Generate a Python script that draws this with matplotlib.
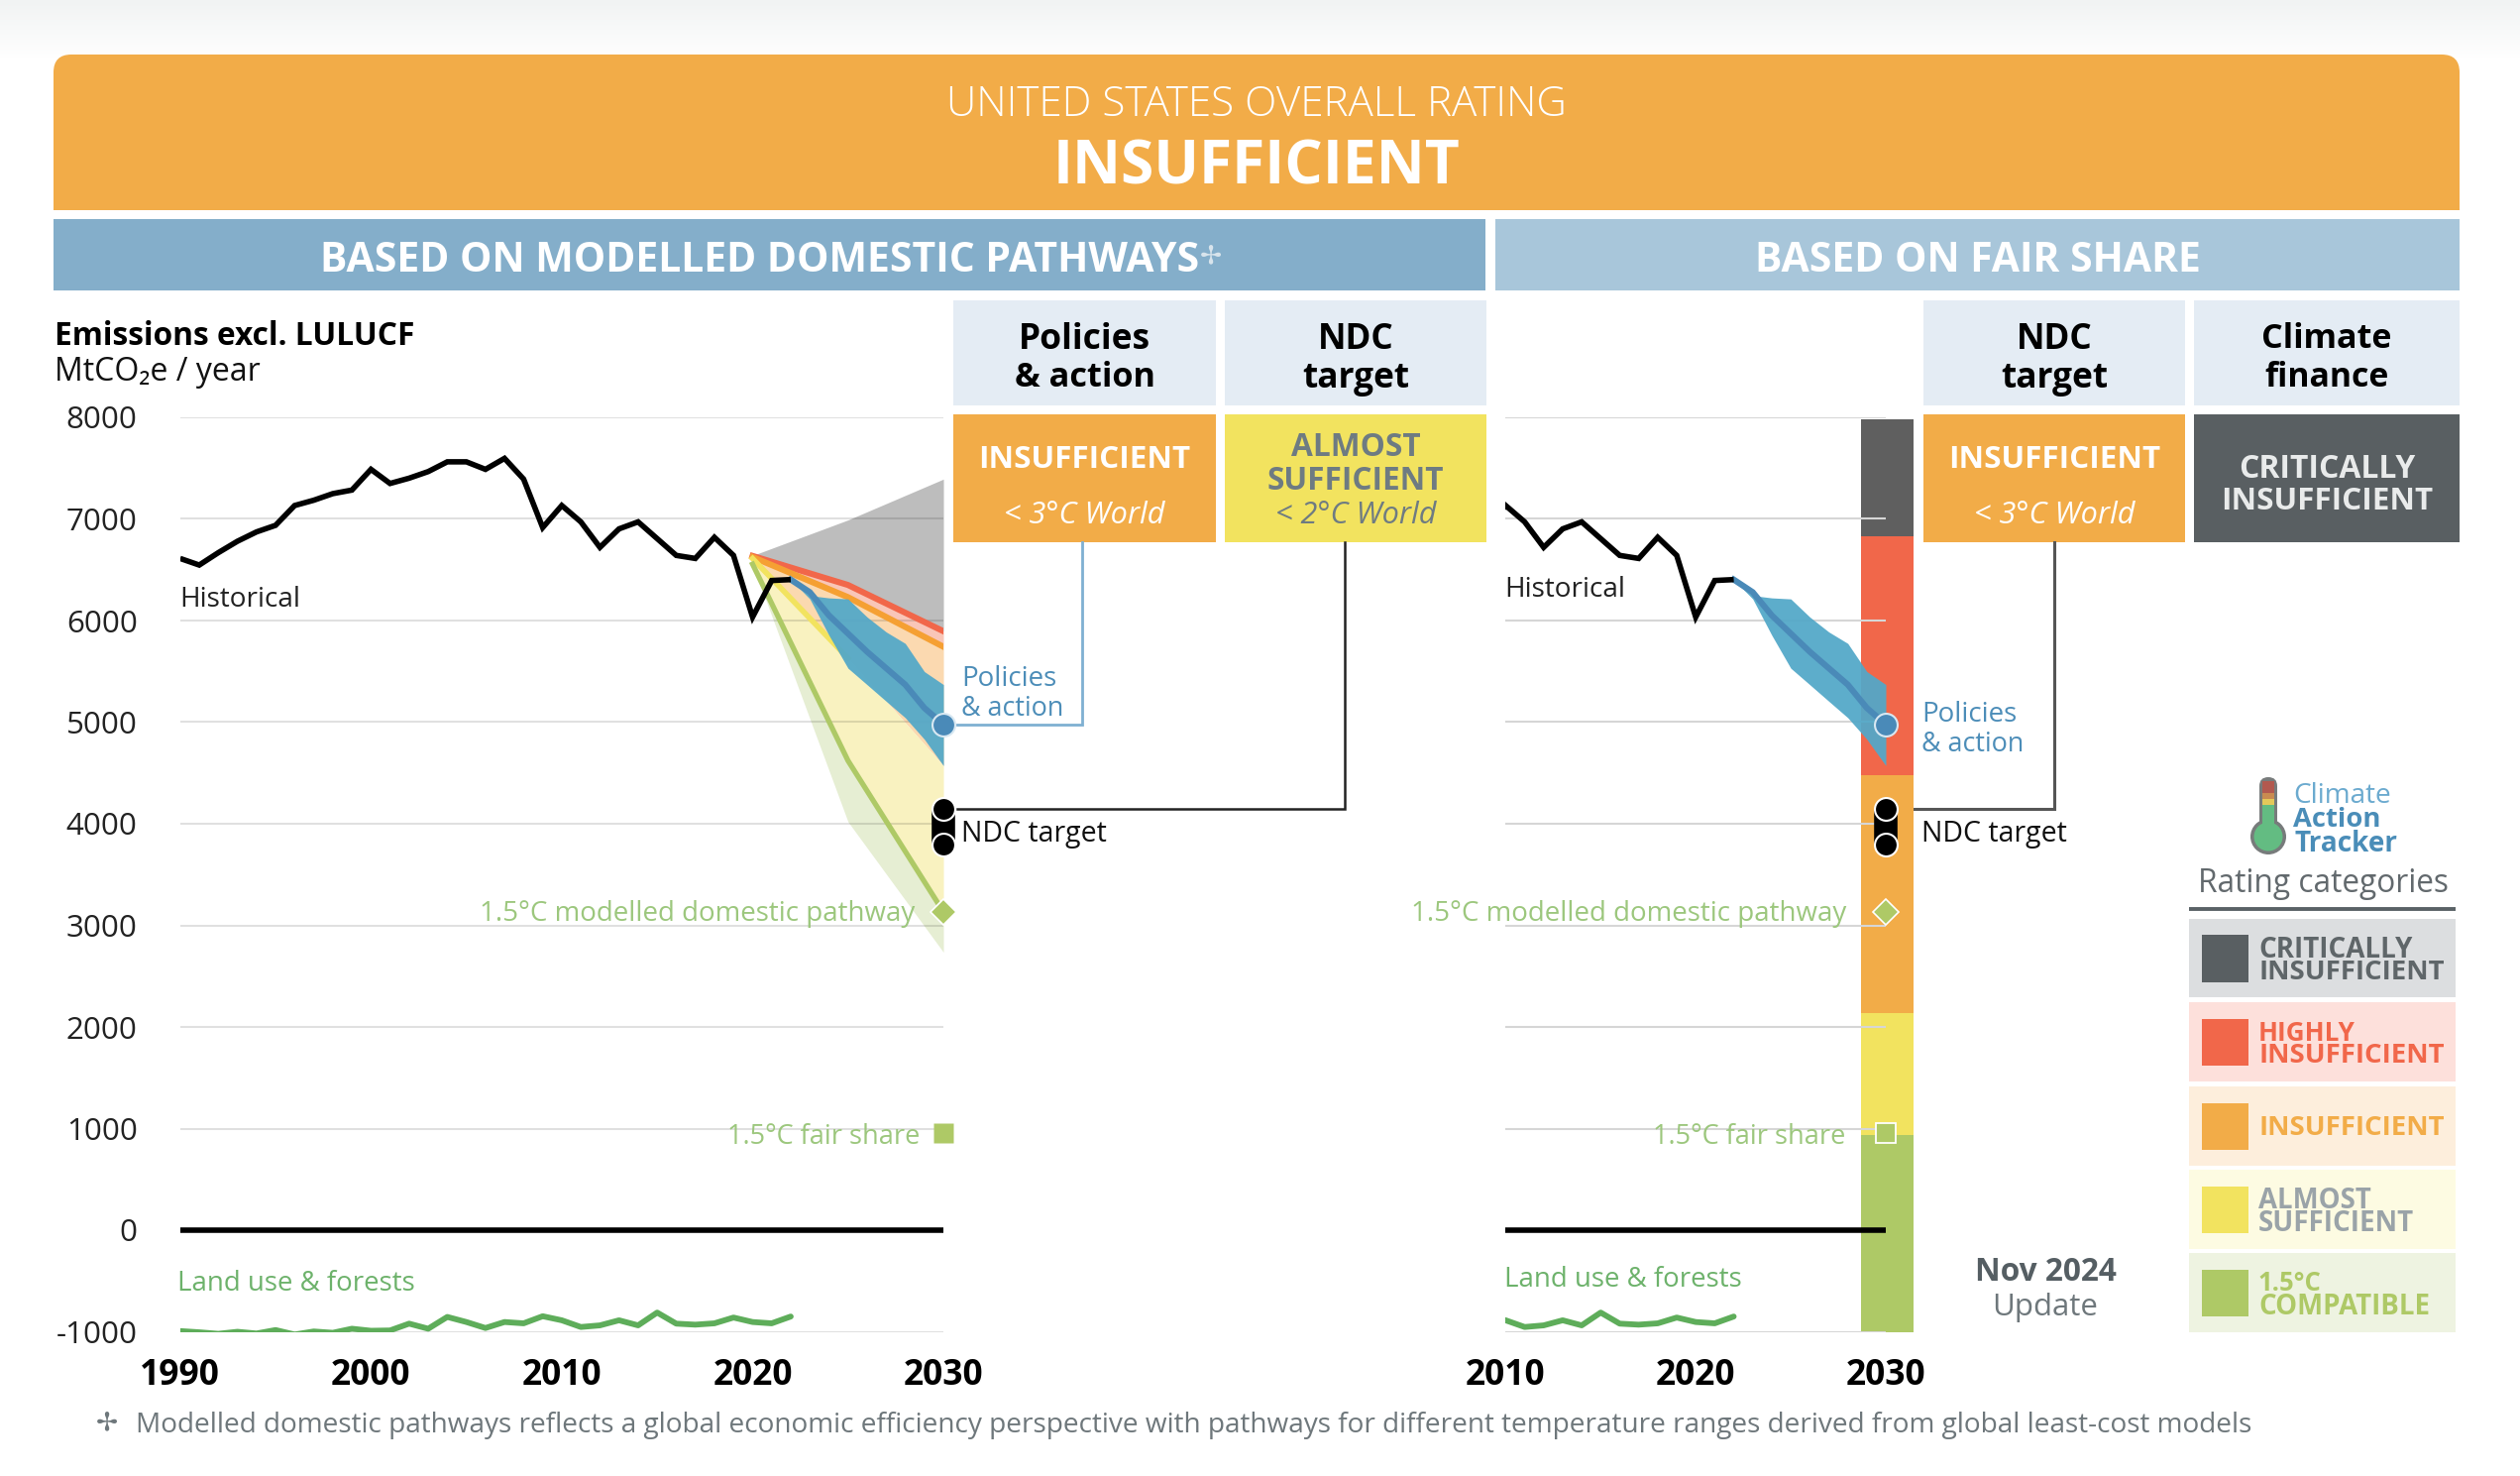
import numpy as np
import matplotlib
matplotlib.use("Agg")
import matplotlib.pyplot as plt
from matplotlib.patches import Rectangle, FancyBboxPatch, Circle

W, H = 2543, 1489
plt.rcParams['font.family'] = ['Open Sans', 'DejaVu Sans']
plt.rcParams['axes.unicode_minus'] = False

# ---------- data ----------
hist_years = list(range(1990, 2023))
hist_values = [6611, 6546, 6668, 6780, 6872, 6937, 7132, 7184, 7249, 7284, 7488, 7349, 7401,
               7466, 7562, 7562, 7488, 7596, 7392, 6915, 7132, 6971, 6720, 6902, 6971, 6806,
               6641, 6611, 6819, 6641, 6034, 6394, 6403]
lulucf_values = [-993, -1005, -1020, -1000, -1017, -983, -1027, -997, -1010, -970, -990, -987,
                 -920, -970, -854, -904, -963, -904, -917, -847, -887, -953, -937, -887, -937,
                 -811, -920, -930, -917, -860, -904, -917, -850]
band_years = [2020, 2025, 2030]
band_gray_top = [6640, 6990, 7392]
band_red = [6636, 6350, 5895]
band_orange = [6625, 6230, 5742]
band_yellow = [6610, 5630, 4572]
band_green = [6555, 4621, 3133]
band_green_low = [6555, 4020, 2736]
pa_years = [2022, 2023, 2024, 2025, 2026, 2027, 2028, 2029, 2030]
pa_top = [6403, 6246, 6223, 6213, 6035, 5888, 5775, 5498, 5370]
pa_bottom = [6403, 6213, 5856, 5531, 5369, 5206, 5044, 4832, 4572]
pa_mid = [6403, 6279, 6051, 5872, 5693, 5531, 5369, 5140, 4978]
policy_2030 = 4978
ndc_high, ndc_low = 4143, 3792
domestic_2030 = 3133
fair_share_2030 = 960
rating_edges = [-1000, 933, 2133, 4479, 6830, 7985]
C_DARK, C_RED, C_ORANGE, C_YELLOW, C_GREEN = '#595F62', '#F1674A', '#F2AC48', '#F2E35F', '#AEC966'
rating_colors = [C_GREEN, C_YELLOW, C_ORANGE, C_RED, '#5F5F5F']
y_ticks = [-1000, 0, 1000, 2000, 3000, 4000, 5000, 6000, 7000, 8000]
x_ticks_left = [1990, 2000, 2010, 2020, 2030]
x_ticks_right = [2010, 2020, 2030]
legend_names = [['CRITICALLY', 'INSUFFICIENT'], ['HIGHLY', 'INSUFFICIENT'], ['INSUFFICIENT'],
                ['ALMOST', 'SUFFICIENT'], ['1.5°C', 'COMPATIBLE']]

fig = plt.figure(figsize=(W / 100, H / 100), dpi=100, facecolor='white')
rend = fig.canvas.get_renderer()


def px_axes(z):
    a = fig.add_axes([0, 0, 1, 1], zorder=z)
    a.set_xlim(0, W)
    a.set_ylim(H, 0)
    a.axis('off')
    return a


bg = px_axes(0)
fg = px_axes(3)


def box(x0, y0, x1, y1, c):
    bg.add_patch(Rectangle((x0, y0), x1 - x0, y1 - y0, fc=c, ec='none'))


def T(x, y, s, width=None, size=20, color='black', ha='center', weight='normal', style='normal', fam=None):
    t = fg.text(x, y - 1, s, fontsize=size, color=color, ha=ha, va='center_baseline', fontweight=weight,
                fontstyle=style, family=fam if fam else ['Open Sans', 'DejaVu Sans'])
    if width:
        t.set_fontsize(size * width / t.get_window_extent(rend).width)
    return t


# top gradient
bg.imshow(np.linspace(0, 1, 60)[:, None], extent=(0, W, 60, 0), aspect='auto', zorder=0,
          cmap=matplotlib.colors.LinearSegmentedColormap.from_list('g', ['#F1F3F3', '#FFFFFF']))
bg.set_xlim(0, W)
bg.set_ylim(H, 0)

# banner
bg.add_patch(FancyBboxPatch((54, 55), 2428, 200, boxstyle='round,pad=0,rounding_size=18', fc=C_ORANGE, ec='none',
                            clip_path=None, zorder=1))
bg.add_patch(Rectangle((40, 212), 2460, 50, fc='white', ec='none', zorder=1.1))
box(54, 221, 1499, 293, '#84AECA')
box(1509, 221, 2482, 293, '#A8C6DA')
for a in bg.patches[-2:]:
    a.set_zorder(1.2)
T(1268, 102, 'UNITED STATES OVERALL RATING', 626, 28, 'white', weight='light')
T(1268, 164, 'INSUFFICIENT', 412, 44, 'white', weight='bold')
T(767, 259, 'BASED ON MODELLED DOMESTIC PATHWAYS', 888, 28, 'white', weight='bold')
T(1222, 257, '✢', size=19, color='#D8E4EC', fam=['DejaVu Sans'])
T(1995.5, 259, 'BASED ON FAIR SHARE', 451, 28, 'white', weight='bold')

# column boxes
HDR = '#E4ECF4'
for x0, x1 in [(962, 1227), (1236, 1500), (1941, 2205), (2214, 2482)]:
    box(x0, 303, x1, 409, HDR)
box(962, 418, 1227, 547, C_ORANGE)
box(1236, 418, 1500, 547, C_YELLOW)
box(1941, 418, 2205, 547, C_ORANGE)
box(2214, 418, 2482, 547, C_DARK)
for cx, a, b, wa, wb in [(1094.5, 'Policies', '& action', 133, 142), (1368, 'NDC', 'target', 77, 108),
                         (2073, 'NDC', 'target', 77, 108), (2348, 'Climate', 'finance', 132, 126)]:
    T(cx, 339, a, wa, 25, 'black', weight='bold')
    T(cx, 378, b, wb, 25, 'black', weight='bold')
T(1094.5, 461, 'INSUFFICIENT', 214, 23, 'white', weight='bold')
T(1094.5, 518, '< 3°C World', 162, 21, 'white', style='italic')
T(1368, 449, 'ALMOST', 131, 23, '#6E7B82', weight='bold')
T(1368, 482, 'SUFFICIENT', 179, 23, '#6E7B82', weight='bold')
T(1368, 518, '< 2°C World', 162, 21, '#6E7B82', style='italic')
T(2073, 461, 'INSUFFICIENT', 214, 23, 'white', weight='bold')
T(2073, 518, '< 3°C World', 162, 21, 'white', style='italic')
T(2348, 470, 'CRITICALLY', 179, 23, '#E9EBEB', weight='bold')
T(2348, 503, 'INSUFFICIENT', 214, 23, '#E9EBEB', weight='bold')

# connectors
BL = '#7FB0D2'
bg.plot([1092, 1092, 966], [547, 730.5, 730.5], color=BL, lw=2, solid_joinstyle='miter')
bg.plot([1356.6, 1356.6, 966], [547, 816, 816], color='#222222', lw=1.8, solid_joinstyle='miter')
bg.plot([2073, 2073, 1919], [547, 816, 816], color='#555555', lw=2.2, solid_joinstyle='miter')

# titles and labels
T(55, 336, 'Emissions excl. LULUCF', 362, 22, 'black', ha='left', weight='bold')
T(55, 373, 'MtCO₂e / year', 207, 22, '#111111', ha='left')
TXT_G = '#9CC77D'
TXT_B = '#4C8DB8'
T(181, 603, 'Historical', 122, 20, '#222222', ha='left')
T(1518, 593, 'Historical', 122, 20, '#222222', ha='left')
T(970, 682, 'Policies', 96, 20, TXT_B, ha='left')
T(970, 712, '& action', 103, 20, TXT_B, ha='left')
T(1939, 719, 'Policies', 96, 20, TXT_B, ha='left')
T(1939, 748, '& action', 103, 20, TXT_B, ha='left')
T(970, 839, 'NDC target', 147, 20, '#111111', ha='left')
T(1939, 839, 'NDC target', 147, 20, '#111111', ha='left')
T(923, 920, '1.5°C modelled domestic pathway', 438, 20, TXT_G, ha='right')
T(1863, 920, '1.5°C modelled domestic pathway', 438, 20, TXT_G, ha='right')
T(928, 1145, '1.5°C fair share', 194, 20, TXT_G, ha='right')
T(1862, 1145, '1.5°C fair share', 194, 20, TXT_G, ha='right')
T(179, 1293, 'Land use & forests', 239, 20, '#6DB26B', ha='left')
T(1518, 1288, 'Land use & forests', 239, 20, '#6DB26B', ha='left')
T(2064, 1280, 'Nov 2024', 143, 22, '#555E63', weight='bold')
T(2064, 1317, 'Update', 107, 22, '#6E777B')
T(108, 1434, '✢', size=19, color='#6E777B', fam=['DejaVu Sans'])
T(137, 1435, 'Modelled domestic pathways reflects a global economic efficiency perspective with pathways '
    'for different temperature ranges derived from global least-cost models', 2133, 20, '#6E777B', ha='left')

# legend
T(2344, 889, 'Rating categories', 253, 22, '#62696D')
bg.plot([2209, 2478], [916.5, 916.5], color='#5A6266', lw=2.8, solid_capstyle='butt')
row_y = [926.5, 1011, 1096, 1180, 1264]
row_bg = ['#DCDEE0', '#FDE0DB', '#FDEEDC', '#FDFBE2', '#EEF3E1']
row_sw = [C_DARK, C_RED, C_ORANGE, C_YELLOW, C_GREEN]
row_tx = ['#5F6669', C_RED, C_ORANGE, '#9AA3A8', C_GREEN]
row_w = [[155, 187], [98, 187], [187], [114, 157], [64, 173]]
for y, b, s, c, names, ws in zip(row_y, row_bg, row_sw, row_tx, legend_names, row_w):
    box(2209, y, 2478, y + 79.5, b)
    box(2222, y + 16.5, 2269, y + 64, s)
    if len(names) == 1:
        T(2279, y + 40, names[0], ws[0], 18, c, ha='left', weight='bold')
    else:
        T(2279, y + 29, names[0], ws[0], 18, c, ha='left', weight='bold')
        T(2279, y + 52, names[1], ws[1], 18, c, ha='left', weight='bold')

# logo
bg.add_patch(FancyBboxPatch((2280, 784), 18, 55, boxstyle='round,pad=0,rounding_size=9', fc='#777B7B', ec='none'))
bg.add_patch(Circle((2289, 844), 18, fc='#777B7B', ec='none'))
bg.add_patch(Circle((2289, 844), 14.5, fc='#63BC82', ec='none'))
for y0, y1, c in [(788, 800, '#B2594F'), (800, 806, '#C98B50'), (806, 812, '#E4C95A'), (812, 836, '#63BC82')]:
    box(2283, y0, 2295, y1, c)
T(2314, 801, 'Climate', 99, 18, '#6BAACF', ha='left')
T(2314, 825, 'Action', 88, 18, '#4A8DB8', ha='left', weight='bold')
T(2315, 849, 'Tracker', 105, 18, '#4A8DB8', ha='left', weight='bold')


# chart axes
def chart(x0, x1, xl, xticks):
    y0, y1 = 421, 1343.5
    a = fig.add_axes([x0 / W, 1 - y1 / H, (x1 - x0) / W, (y1 - y0) / H], zorder=1)
    a.patch.set_alpha(0)
    a.set_xlim(*xl)
    a.set_ylim(-1000, 8000)
    for s in a.spines.values():
        s.set_visible(False)
    a.set_yticks(y_ticks)
    a.set_xticks(xticks)
    a.tick_params(axis='both', length=0)
    a.tick_params(axis='x', pad=19, labelsize=25.5)
    for l in a.get_xticklabels():
        l.set_fontweight('bold')
    a.set_axisbelow(True)
    a.axhline(0, color='black', lw=4, zorder=1.5, solid_capstyle='butt')
    return a


ax = chart(181.8, 952, (1990, 2030), x_ticks_left)
ax.tick_params(axis='y', pad=31, labelsize=22.5, labelcolor='#222222')
ax.grid(axis='y', color='black', alpha=0.12, lw=1.5)
ax.fill_between(band_years, band_red, band_gray_top, color='#BDBDBD', lw=0, zorder=0.3)
ax.fill_between(band_years, band_orange, band_red, color='#F9C6B8', lw=0, zorder=0.3)
ax.fill_between(band_years, band_yellow, band_orange, color='#FBD9B0', lw=0, zorder=0.3)
ax.fill_between(band_years, band_green, band_yellow, color='#F9F2C0', lw=0, zorder=0.3)
ax.fill_between(band_years, band_green_low, band_green, color='#E6EED3', lw=0, zorder=0.3)
ax.plot(band_years, band_red, color=C_RED, lw=4.4, zorder=1)
ax.plot(band_years, band_orange, color='#F5A033', lw=4.4, zorder=1)
ax.plot(band_years[:2], band_yellow[:2], color=C_YELLOW, lw=4, zorder=1)
ax.plot(band_years, band_green, color=C_GREEN, lw=3.8, zorder=1.2)

ax2 = chart(1519.4, 1903, (2010, 2030), x_ticks_right)
ax2.tick_params(axis='y', labelleft=False)
ax2.grid(axis='y', color='#D6D6D6', lw=1.5)
ax2.bar([2030.1] * 5, np.diff(rating_edges), bottom=rating_edges[:-1], width=2.77,
        color=rating_colors, lw=0, zorder=0.2, clip_on=False)

for a, fair_ec in [(ax, None), (ax2, 'white')]:
    a.fill_between(pa_years, pa_bottom, pa_top, color='#53A8C8', alpha=0.94, lw=0, zorder=2)
    a.plot(pa_years, pa_mid, color='#4A8AB8', lw=4.4, zorder=2.1, solid_joinstyle='miter')
    a.plot(hist_years, hist_values, color='black', lw=4, zorder=3, solid_joinstyle='miter', solid_capstyle='butt')
    a.plot(hist_years, lulucf_values, color='#5EAD5A', lw=4.2, zorder=3, solid_capstyle='round')
    a.plot([2030, 2030], [ndc_high, ndc_low], color='black', lw=17, solid_capstyle='butt', zorder=4, clip_on=False)
    for v in (ndc_high, ndc_low):
        a.plot([2030], [v], 'o', ms=16.5, mfc='black', mec='white', mew=1.5, zorder=5, clip_on=False)
    a.plot([2030], [policy_2030], 'o', ms=16.5, mfc='#4A8AB8', mec='#D8E8F2', mew=1.5, zorder=5, clip_on=False)
    a.plot([2030], [domestic_2030], 'D', ms=13, mfc=C_GREEN, mec='white', mew=1.2, zorder=5, clip_on=False)
    if fair_ec:
        a.plot([2030], [fair_share_2030], 's', ms=14.5, mfc=C_GREEN, mec='white', mew=1.3, zorder=5, clip_on=False)
    else:
        a.plot([2030], [fair_share_2030], 's', ms=15, mfc=C_GREEN, mec='none', zorder=5, clip_on=False)

fig.savefig('out.png', dpi=100)
